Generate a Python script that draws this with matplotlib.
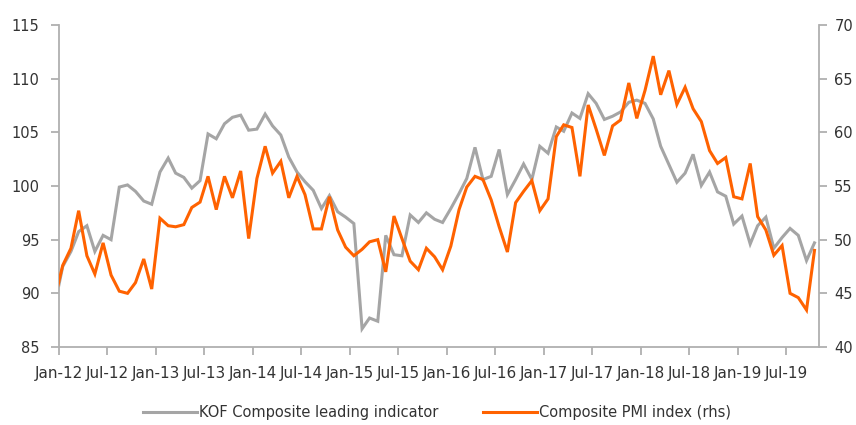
import matplotlib
matplotlib.use("Agg")
import matplotlib.pyplot as plt
import matplotlib.dates as mdates
import numpy as np
import pandas as pd

# Monthly observations (plotted mid-month), Dec-11 .. Oct-19 (Dec-11 is clipped by the axis)
start_month = "2011-12-01"

kof = [88.8,
       92.5, 93.9, 95.75, 96.3, 93.9, 95.4, 95.0, 99.9, 100.1, 99.5, 98.6, 98.3,
       101.3, 102.6, 101.2, 100.8, 99.8, 100.5, 104.85, 104.4, 105.8, 106.4, 106.6, 105.2,
       105.3, 106.7, 105.6, 104.75, 102.7, 101.3, 100.4, 99.6, 97.9, 99.1, 97.6, 97.1,
       96.5, 86.7, 87.7, 87.4, 95.4, 93.6, 93.5, 97.3, 96.6, 97.5, 96.9, 96.6,
       97.9, 99.3, 100.7, 103.6, 100.6, 100.9, 103.4, 99.2, 100.6, 102.05, 100.6, 103.7,
       103.05, 105.5, 105.1, 106.8, 106.3, 108.6, 107.7, 106.2, 106.5, 106.9, 107.8, 108.0,
       107.7, 106.25, 103.7, 102.0, 100.35, 101.2, 102.95, 100.05, 101.3, 99.45, 99.05, 96.45,
       97.2, 94.6, 96.3, 97.1, 94.2, 95.2, 96.05, 95.4, 93.05, 94.7]

pmi = [44.4,
       47.6, 49.2, 52.7, 48.5, 46.8, 49.7, 46.7, 45.2, 45.0, 46.0, 48.2, 45.4,
       52.0, 51.3, 51.2, 51.4, 53.0, 53.5, 55.9, 52.8, 55.9, 53.9, 56.4, 50.1,
       55.7, 58.7, 56.2, 57.3, 53.9, 55.9, 54.2, 51.0, 51.0, 54.0, 50.9, 49.3,
       48.5, 49.1, 49.8, 50.0, 47.0, 52.2, 50.1, 48.0, 47.2, 49.2, 48.4, 47.2,
       49.4, 52.8, 54.9, 55.9, 55.6, 53.7, 51.2, 48.85, 53.45, 54.5, 55.5, 52.7,
       53.8, 59.6, 60.7, 60.45, 55.9, 62.55, 60.3, 57.85, 60.6, 61.15, 64.6, 61.3,
       63.9, 67.1, 63.5, 65.75, 62.6, 64.2, 62.2, 61.0, 58.3, 57.1, 57.65, 54.0,
       53.8, 57.1, 52.15, 50.9, 48.55, 49.45, 45.0, 44.6, 43.45, 49.0]

left_ticks = [85, 90, 95, 100, 105, 110, 115]
right_ticks = [40, 45, 50, 55, 60, 65, 70]
series_labels = ["KOF Composite leading indicator", "Composite PMI index (rhs)"]

dates = pd.date_range(start_month, periods=len(kof), freq="MS") + pd.Timedelta(days=14)
tick_dates = pd.date_range("2012-01-01", "2019-07-01", freq="6MS")

GRAY = "#A5A5A5"
ORANGE = "#FF6200"
TEXT = "#333333"
SPINE = "#B0B0B0"

plt.rcParams["font.family"] = ["DejaVu Sans"]
fig = plt.figure(figsize=(8.56, 4.25), dpi=100)
ax = fig.add_axes([59 / 856, 1 - 347 / 425, (819 - 59) / 856, (347 - 25) / 425])
ax2 = ax.twinx()

ax.plot(dates, kof, color=GRAY, lw=2.2, solid_joinstyle="miter", label=series_labels[0], zorder=2)
ax2.plot(dates, pmi, color=ORANGE, lw=2.2, solid_joinstyle="miter", label=series_labels[1], zorder=3)

ax.set_xlim(pd.Timestamp("2012-01-01"), pd.Timestamp("2019-11-01"))
ax.set_ylim(85, 115)
ax2.set_ylim(40, 70)
ax.set_yticks(left_ticks)
ax2.set_yticks(right_ticks)
ax.set_xticks(tick_dates)
ax.xaxis.set_major_formatter(mdates.DateFormatter("%b-%y"))

for a in (ax, ax2):
    for s in a.spines.values():
        s.set_color(SPINE)
        s.set_linewidth(1.3)
    a.spines["top"].set_visible(False)
ax.spines["right"].set_visible(False)
ax2.spines["left"].set_visible(False)
ax2.spines["bottom"].set_visible(False)

ax.tick_params(axis="y", direction="out", length=6, width=1.3, color=SPINE,
               labelsize=10.5, labelcolor=TEXT, pad=8)
ax.tick_params(axis="x", direction="out", length=6, width=1.3, color=SPINE,
               labelsize=11, labelcolor=TEXT, pad=8)
ax2.tick_params(axis="y", direction="out", length=6, width=1.3, color=SPINE,
                labelsize=10.5, labelcolor=TEXT, pad=5)
ax.patch.set_visible(False)

h1, l1 = ax.get_legend_handles_labels()
h2, l2 = ax2.get_legend_handles_labels()
fig.legend(h1 + h2, l1 + l2, loc="center", bbox_to_anchor=(437 / 856, 1 - 413 / 425),
           ncol=2, frameon=False, fontsize=10.5, handlelength=3.7, handletextpad=0.15,
           columnspacing=3.0, labelcolor=TEXT)

fig.savefig("out.png", dpi=100)
